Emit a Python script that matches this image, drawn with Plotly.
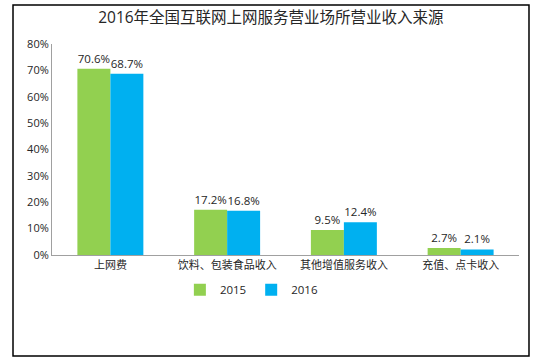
import plotly.graph_objects as go

categories = ["上网费", "饮料、包装食品收入", "其他增值服务收入", "充值、点卡收入"]
series_names = ["2015", "2016"]
values_2015 = [70.6, 17.2, 9.5, 2.7]
values_2016 = [68.7, 16.8, 12.4, 2.1]
y_ticks = [0, 10, 20, 30, 40, 50, 60, 70, 80]
y_tick_labels = ["0%", "10%", "20%", "30%", "40%", "50%", "60%", "70%", "80%"]

FONT = "Segoe UI, Open Sans, Noto Sans CJK SC, sans-serif"
colors = ["#92D050", "#00B0F0"]

fig = go.Figure()
for name, vals, c in zip(series_names, [values_2015, values_2016], colors):
    fig.add_trace(go.Bar(
        name=name, x=categories, y=vals, marker_color=c, marker_line_width=0,
        text=[f"{v:.1f}%" for v in vals], textposition="outside",
        textfont=dict(size=11.5, color="#262626", family=FONT),
        cliponaxis=False,
    ))

fig.update_layout(
    template="none",
    width=544, height=364,
    margin=dict(l=52, r=25, t=44, b=109, autoexpand=False),
    paper_bgcolor="white", plot_bgcolor="white",
    barmode="group", bargap=0.435, bargroupgap=0,
    title=dict(text="2016年全国互联网上网服务营业场所营业收入来源",
               x=0.498, xanchor="center", y=0.953, yanchor="middle",
               font=dict(size=15.5, color="#262626", family=FONT)),
    font=dict(family=FONT, size=11, color="#262626"),
    showlegend=True,
    legend=dict(orientation="h", x=0.428, xanchor="center", y=-0.165, yanchor="middle",
                font=dict(size=11.5, color="#262626"), itemwidth=30, traceorder="normal",
                bgcolor="rgba(0,0,0,0)"),
    xaxis=dict(showline=True, linecolor="#A0A0A0", linewidth=1, ticks="", automargin=False,
               showgrid=False, tickfont=dict(size=11, color="#262626")),
    yaxis=dict(range=[0, 80], tickvals=y_ticks, ticktext=y_tick_labels, automargin=False,
               showgrid=False, zeroline=False, showline=True, linecolor="#A0A0A0",
               linewidth=1, ticks="", tickfont=dict(size=11, color="#262626")),
)

fig.add_shape(type="rect", xref="paper", yref="paper",
              x0=-0.0835, x1=1.0214, y0=-0.4787, y1=1.1848,
              line=dict(color="black", width=1.5), fillcolor="rgba(0,0,0,0)", layer="below")

fig.write_html("out.html", config={"displayModeBar": False},
               post_script="document.body.style.margin='0';document.body.style.overflow='hidden';")
